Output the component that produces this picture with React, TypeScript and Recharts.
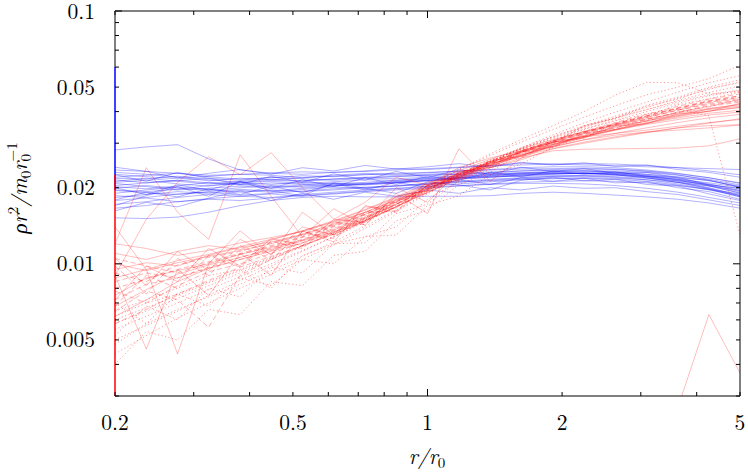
import React from 'react'
import { LineChart, Line, XAxis, YAxis, ReferenceLine } from 'recharts'

// sample radii r/r0 shared by every run
const radii = [0.2, 0.235, 0.276, 0.324, 0.381, 0.447, 0.525, 0.617, 0.725, 0.851, 1.0, 1.175, 1.38, 1.62, 1.91, 2.24, 2.63, 3.09, 3.63, 4.26, 5.0]

// blue runs (flat profiles)
const blueRuns: number[][] = [
  [0.0282, 0.0290, 0.0296, 0.0260, 0.0235, 0.0228, 0.0226, 0.0230, 0.0233, 0.0238, 0.0236, 0.0240, 0.0245, 0.0250, 0.0248, 0.0246, 0.0244, 0.0242, 0.0240, 0.0238, 0.0236],
  [0.0152, 0.0151, 0.0153, 0.0160, 0.0170, 0.0178, 0.0183, 0.0185, 0.0184, 0.0184, 0.0185, 0.0185, 0.0186, 0.0190, 0.0192, 0.0190, 0.0187, 0.0184, 0.0180, 0.0174, 0.0166],
  [0.0235, 0.0232, 0.0228, 0.0224, 0.0226, 0.0229, 0.0231, 0.0230, 0.0232, 0.0235, 0.0238, 0.0241, 0.0244, 0.0246, 0.0248, 0.0249, 0.0248, 0.0245, 0.0240, 0.0233, 0.0225],
  [0.0210, 0.0214, 0.0207, 0.0203, 0.0209, 0.0212, 0.0208, 0.0211, 0.0215, 0.0214, 0.0218, 0.0222, 0.0225, 0.0229, 0.0232, 0.0233, 0.0231, 0.0226, 0.0218, 0.0207, 0.0195],
  [0.0195, 0.0191, 0.0188, 0.0193, 0.0197, 0.0194, 0.0199, 0.0203, 0.0206, 0.0209, 0.0213, 0.0216, 0.0220, 0.0223, 0.0226, 0.0228, 0.0227, 0.0223, 0.0215, 0.0204, 0.0190],
  [0.0220, 0.0224, 0.0228, 0.0221, 0.0216, 0.0219, 0.0223, 0.0221, 0.0225, 0.0228, 0.0230, 0.0232, 0.0235, 0.0237, 0.0238, 0.0239, 0.0237, 0.0233, 0.0227, 0.0219, 0.0209],
  [0.0186, 0.0183, 0.0189, 0.0192, 0.0187, 0.0190, 0.0194, 0.0198, 0.0201, 0.0203, 0.0207, 0.0211, 0.0214, 0.0218, 0.0221, 0.0222, 0.0220, 0.0215, 0.0207, 0.0197, 0.0184],
  [0.0202, 0.0198, 0.0203, 0.0210, 0.0206, 0.0201, 0.0205, 0.0209, 0.0207, 0.0211, 0.0214, 0.0218, 0.0222, 0.0225, 0.0227, 0.0228, 0.0226, 0.0221, 0.0212, 0.0200, 0.0187],
  [0.0215, 0.0209, 0.0213, 0.0218, 0.0214, 0.0220, 0.0217, 0.0214, 0.0218, 0.0221, 0.0224, 0.0226, 0.0229, 0.0233, 0.0236, 0.0237, 0.0236, 0.0232, 0.0225, 0.0214, 0.0201],
  [0.0178, 0.0182, 0.0176, 0.0181, 0.0185, 0.0183, 0.0188, 0.0192, 0.0196, 0.0199, 0.0203, 0.0207, 0.0211, 0.0215, 0.0217, 0.0218, 0.0216, 0.0212, 0.0205, 0.0196, 0.0186],
  [0.0226, 0.0221, 0.0217, 0.0222, 0.0226, 0.0224, 0.0219, 0.0222, 0.0226, 0.0224, 0.0226, 0.0229, 0.0231, 0.0233, 0.0234, 0.0233, 0.0230, 0.0224, 0.0216, 0.0205, 0.0193],
  [0.0199, 0.0204, 0.0199, 0.0195, 0.0200, 0.0204, 0.0201, 0.0204, 0.0208, 0.0212, 0.0216, 0.0219, 0.0221, 0.0222, 0.0223, 0.0223, 0.0221, 0.0218, 0.0213, 0.0206, 0.0198],
  [0.0208, 0.0202, 0.0196, 0.0199, 0.0203, 0.0199, 0.0203, 0.0207, 0.0205, 0.0209, 0.0213, 0.0217, 0.0220, 0.0224, 0.0227, 0.0229, 0.0229, 0.0226, 0.0221, 0.0213, 0.0203],
  [0.0190, 0.0196, 0.0201, 0.0197, 0.0192, 0.0196, 0.0193, 0.0196, 0.0200, 0.0204, 0.0208, 0.0212, 0.0216, 0.0219, 0.0222, 0.0224, 0.0224, 0.0221, 0.0216, 0.0209, 0.0201],
  [0.0218, 0.0216, 0.0222, 0.0215, 0.0210, 0.0214, 0.0212, 0.0216, 0.0219, 0.0217, 0.0220, 0.0223, 0.0226, 0.0228, 0.0229, 0.0229, 0.0227, 0.0222, 0.0214, 0.0203, 0.0191],
  [0.0172, 0.0176, 0.0183, 0.0188, 0.0185, 0.0189, 0.0185, 0.0189, 0.0193, 0.0196, 0.0199, 0.0203, 0.0207, 0.0210, 0.0212, 0.0213, 0.0212, 0.0209, 0.0204, 0.0197, 0.0189],
  [0.0230, 0.0226, 0.0220, 0.0213, 0.0218, 0.0215, 0.0219, 0.0224, 0.0228, 0.0226, 0.0229, 0.0233, 0.0236, 0.0240, 0.0242, 0.0242, 0.0240, 0.0235, 0.0228, 0.0219, 0.0208],
  [0.0196, 0.0193, 0.0197, 0.0204, 0.0209, 0.0206, 0.0210, 0.0207, 0.0210, 0.0214, 0.0217, 0.0220, 0.0224, 0.0226, 0.0228, 0.0228, 0.0225, 0.0219, 0.0210, 0.0198, 0.0184],
  [0.0204, 0.0209, 0.0214, 0.0209, 0.0205, 0.0209, 0.0206, 0.0203, 0.0207, 0.0210, 0.0214, 0.0219, 0.0223, 0.0227, 0.0231, 0.0233, 0.0233, 0.0230, 0.0224, 0.0216, 0.0205],
  [0.0166, 0.0170, 0.0176, 0.0180, 0.0178, 0.0182, 0.0186, 0.0190, 0.0194, 0.0198, 0.0201, 0.0204, 0.0206, 0.0208, 0.0208, 0.0207, 0.0204, 0.0199, 0.0192, 0.0183, 0.0174],
  [0.0212, 0.0218, 0.0212, 0.0207, 0.0212, 0.0216, 0.0213, 0.0217, 0.0220, 0.0222, 0.0224, 0.0226, 0.0228, 0.0229, 0.0229, 0.0228, 0.0225, 0.0219, 0.0210, 0.0199, 0.0186],
  [0.0183, 0.0188, 0.0193, 0.0190, 0.0195, 0.0192, 0.0197, 0.0201, 0.0199, 0.0203, 0.0206, 0.0210, 0.0213, 0.0216, 0.0218, 0.0219, 0.0218, 0.0215, 0.0210, 0.0203, 0.0195],
  [0.0200, 0.0188, 0.0205, 0.0196, 0.0212, 0.0199, 0.0215, 0.0202, 0.0219, 0.0206, 0.0222, 0.0214, 0.0230, 0.0221, 0.0233, 0.0226, 0.0231, 0.0222, 0.0220, 0.0205, 0.0199],
  [0.0225, 0.0212, 0.0230, 0.0218, 0.0206, 0.0222, 0.0210, 0.0227, 0.0214, 0.0232, 0.0219, 0.0236, 0.0226, 0.0241, 0.0232, 0.0238, 0.0228, 0.0230, 0.0219, 0.0214, 0.0201],
  [0.0179, 0.0192, 0.0184, 0.0198, 0.0188, 0.0203, 0.0191, 0.0207, 0.0196, 0.0210, 0.0201, 0.0215, 0.0206, 0.0219, 0.0212, 0.0218, 0.0209, 0.0211, 0.0200, 0.0193, 0.0180],
  [0.0170, 0.0186, 0.0202, 0.0185, 0.0212, 0.0194, 0.0186, 0.0209, 0.0199, 0.0190, 0.0211, 0.0205, 0.0196, 0.0214, 0.0220, 0.0213, 0.0216, 0.0206, 0.0203, 0.0189, 0.0178],
  [0.0241, 0.0232, 0.0219, 0.0228, 0.0236, 0.0226, 0.0240, 0.0233, 0.0245, 0.0237, 0.0242, 0.0249, 0.0241, 0.0252, 0.0246, 0.0251, 0.0243, 0.0246, 0.0236, 0.0230, 0.0220],
  [0.0162, 0.0175, 0.0168, 0.0182, 0.0194, 0.0178, 0.0190, 0.0180, 0.0192, 0.0185, 0.0196, 0.0190, 0.0200, 0.0196, 0.0203, 0.0199, 0.0200, 0.0193, 0.0188, 0.0179, 0.0170],
]

// red runs, solid
const redSolid: (number | null)[][] = [
  [0.0095, 0.0101, 0.0098, 0.0108, 0.0116, 0.0122, 0.0131, 0.0144, 0.0160, 0.0180, 0.0203, 0.0226, 0.0249, 0.0270, 0.0291, 0.0310, 0.0328, 0.0345, 0.0362, 0.0378, 0.0390],
  [0.0075, 0.0088, 0.0094, 0.0100, 0.0109, 0.0116, 0.0124, 0.0136, 0.0152, 0.0172, 0.0196, 0.0220, 0.0244, 0.0266, 0.0286, 0.0303, 0.0318, 0.0332, 0.0345, 0.0352, 0.0355],
  [0.0110, 0.0104, 0.0112, 0.0118, 0.0114, 0.0124, 0.0135, 0.0147, 0.0163, 0.0182, 0.0205, 0.0228, 0.0252, 0.0276, 0.0298, 0.0320, 0.0340, 0.0360, 0.0382, 0.0402, 0.0416],
  [0.0068, 0.0079, 0.0091, 0.0099, 0.0106, 0.0114, 0.0123, 0.0134, 0.0149, 0.0168, 0.0192, 0.0216, 0.0240, 0.0262, 0.0280, 0.0284, 0.0285, 0.0286, 0.0287, 0.0293, 0.0312],
  [0.0120, 0.0115, 0.0108, 0.0113, 0.0121, 0.0127, 0.0134, 0.0146, 0.0160, 0.0178, 0.0199, 0.0222, 0.0246, 0.0269, 0.0290, 0.0309, 0.0323, 0.0332, 0.0338, 0.0345, 0.0354],
  [0.0088, 0.0095, 0.0103, 0.0109, 0.0117, 0.0125, 0.0135, 0.0148, 0.0164, 0.0184, 0.0208, 0.0233, 0.0259, 0.0285, 0.0310, 0.0333, 0.0354, 0.0374, 0.0395, 0.0412, 0.0425],
  [0.0062, 0.0072, 0.0085, 0.0096, 0.0104, 0.0112, 0.0121, 0.0133, 0.0148, 0.0168, 0.0192, 0.0218, 0.0243, 0.0268, 0.0293, 0.0316, 0.0338, 0.0359, 0.0378, 0.0394, 0.0405],
  [0.0100, 0.0094, 0.0101, 0.0107, 0.0113, 0.0120, 0.0130, 0.0142, 0.0157, 0.0176, 0.0198, 0.0222, 0.0247, 0.0272, 0.0297, 0.0322, 0.0346, 0.0368, 0.0390, 0.0408, 0.0420],
  [0.0072, 0.0098, 0.0085, 0.0115, 0.0098, 0.0126, 0.0118, 0.0150, 0.0146, 0.0185, 0.0194, 0.0230, 0.0244, 0.0278, 0.0292, 0.0328, 0.0340, 0.0368, 0.0386, 0.0410, 0.0428],
  [0.0105, 0.0082, 0.0112, 0.0094, 0.0125, 0.0109, 0.0140, 0.0130, 0.0168, 0.0166, 0.0211, 0.0218, 0.0256, 0.0266, 0.0304, 0.0314, 0.0350, 0.0358, 0.0392, 0.0400, 0.0432],
  // noisy ones
  [0.0120, 0.0240, 0.0160, 0.0125, 0.0270, 0.0185, 0.0128, 0.0165, 0.0142, 0.0190, 0.0158, 0.0285, 0.0212, 0.0262, 0.0296, 0.0318, 0.0328, 0.0338, 0.0350, 0.0362, 0.0372],
  [0.0090, 0.0150, 0.0210, 0.0265, 0.0225, 0.0275, 0.0200, 0.0150, 0.0175, 0.0220, 0.0205, 0.0240, 0.0262, 0.0280, 0.0302, 0.0320, 0.0338, 0.0356, 0.0372, 0.0388, 0.0398],
  [0.0090, 0.0046, 0.0095, 0.0075, 0.0110, 0.0090, 0.0135, 0.0122, 0.0170, 0.0160, 0.0205, 0.0218, 0.0248, 0.0268, 0.0296, 0.0318, 0.0340, 0.0362, 0.0385, 0.0402, 0.0415],
  [0.0140, 0.0095, 0.0044, 0.0100, 0.0135, 0.0108, 0.0160, 0.0130, 0.0148, 0.0200, 0.0175, 0.0232, 0.0240, 0.0258, 0.0285, 0.0300, 0.0315, 0.0330, 0.0345, 0.0360, 0.0375],
  // stray run at the bottom right
  [null, null, null, null, null, null, null, null, null, null, null, null, null, null, null, null, null, null, 0.0027, 0.0063, 0.0037],
]

// red runs, dashed
const redDashed: number[][] = [
  [0.0080, 0.0087, 0.0095, 0.0102, 0.0110, 0.0118, 0.0128, 0.0141, 0.0157, 0.0177, 0.0202, 0.0228, 0.0254, 0.0280, 0.0306, 0.0332, 0.0356, 0.0380, 0.0405, 0.0428, 0.0445],
  [0.0072, 0.0083, 0.0088, 0.0097, 0.0106, 0.0115, 0.0125, 0.0138, 0.0154, 0.0175, 0.0200, 0.0226, 0.0252, 0.0278, 0.0304, 0.0330, 0.0355, 0.0380, 0.0408, 0.0435, 0.0455],
  [0.0092, 0.0085, 0.0099, 0.0106, 0.0112, 0.0121, 0.0131, 0.0143, 0.0159, 0.0179, 0.0203, 0.0229, 0.0255, 0.0281, 0.0307, 0.0333, 0.0358, 0.0384, 0.0412, 0.0440, 0.0462],
  [0.0065, 0.0078, 0.0072, 0.0056, 0.0090, 0.0104, 0.0118, 0.0131, 0.0147, 0.0168, 0.0194, 0.0221, 0.0248, 0.0276, 0.0303, 0.0330, 0.0356, 0.0383, 0.0412, 0.0438, 0.0456],
  [0.0105, 0.0098, 0.0092, 0.0101, 0.0109, 0.0117, 0.0127, 0.0140, 0.0156, 0.0176, 0.0200, 0.0225, 0.0251, 0.0277, 0.0302, 0.0327, 0.0350, 0.0373, 0.0398, 0.0420, 0.0436],
  [0.0058, 0.0066, 0.0076, 0.0086, 0.0097, 0.0107, 0.0118, 0.0131, 0.0148, 0.0169, 0.0195, 0.0223, 0.0251, 0.0279, 0.0307, 0.0335, 0.0362, 0.0390, 0.0420, 0.0448, 0.0470],
  [0.0085, 0.0092, 0.0088, 0.0096, 0.0104, 0.0113, 0.0124, 0.0137, 0.0153, 0.0173, 0.0198, 0.0224, 0.0250, 0.0276, 0.0302, 0.0328, 0.0353, 0.0378, 0.0405, 0.0432, 0.0450],
  [0.0078, 0.0070, 0.0082, 0.0093, 0.0100, 0.0110, 0.0121, 0.0135, 0.0151, 0.0172, 0.0197, 0.0224, 0.0251, 0.0279, 0.0306, 0.0333, 0.0359, 0.0386, 0.0415, 0.0442, 0.0462],
  [0.0068, 0.0090, 0.0080, 0.0108, 0.0097, 0.0123, 0.0115, 0.0146, 0.0143, 0.0180, 0.0190, 0.0226, 0.0240, 0.0275, 0.0290, 0.0325, 0.0344, 0.0372, 0.0396, 0.0424, 0.0441],
  [0.0098, 0.0076, 0.0105, 0.0090, 0.0118, 0.0104, 0.0134, 0.0126, 0.0160, 0.0162, 0.0205, 0.0214, 0.0250, 0.0264, 0.0301, 0.0318, 0.0351, 0.0366, 0.0399, 0.0418, 0.0448],
]

// red runs, dotted
const redDotted: number[][] = [
  [0.0055, 0.0062, 0.0070, 0.0079, 0.0089, 0.0100, 0.0113, 0.0128, 0.0146, 0.0168, 0.0195, 0.0224, 0.0254, 0.0285, 0.0316, 0.0347, 0.0377, 0.0408, 0.0442, 0.0476, 0.0505],
  [0.0048, 0.0058, 0.0066, 0.0074, 0.0083, 0.0094, 0.0107, 0.0122, 0.0141, 0.0163, 0.0191, 0.0221, 0.0253, 0.0286, 0.0319, 0.0352, 0.0384, 0.0416, 0.0452, 0.0490, 0.0525],
  [0.0062, 0.0070, 0.0076, 0.0085, 0.0095, 0.0106, 0.0118, 0.0133, 0.0151, 0.0172, 0.0198, 0.0227, 0.0257, 0.0288, 0.0318, 0.0349, 0.0378, 0.0407, 0.0438, 0.0466, 0.0488],
  [0.0044, 0.0052, 0.0061, 0.0070, 0.0080, 0.0091, 0.0104, 0.0119, 0.0138, 0.0161, 0.0189, 0.0220, 0.0253, 0.0288, 0.0324, 0.0361, 0.0398, 0.0436, 0.0478, 0.0520, 0.0555],
  [0.0058, 0.0065, 0.0073, 0.0082, 0.0092, 0.0104, 0.0117, 0.0133, 0.0152, 0.0175, 0.0203, 0.0235, 0.0268, 0.0303, 0.0340, 0.0380, 0.0422, 0.0466, 0.0500, 0.0540, 0.0610],
  [0.0050, 0.0057, 0.0065, 0.0075, 0.0086, 0.0098, 0.0112, 0.0128, 0.0148, 0.0172, 0.0202, 0.0236, 0.0272, 0.0310, 0.0352, 0.0400, 0.0465, 0.0522, 0.0520, 0.0470, 0.0480],
  [0.0060, 0.0067, 0.0075, 0.0084, 0.0094, 0.0105, 0.0118, 0.0132, 0.0150, 0.0171, 0.0197, 0.0225, 0.0254, 0.0284, 0.0313, 0.0342, 0.0368, 0.0392, 0.0410, 0.0385, 0.0130],
  [0.0065, 0.0072, 0.0080, 0.0090, 0.0095, 0.0080, 0.0108, 0.0120, 0.0128, 0.0140, 0.0180, 0.0212, 0.0244, 0.0276, 0.0308, 0.0340, 0.0370, 0.0400, 0.0432, 0.0462, 0.0485],
  [0.0052, 0.0068, 0.0060, 0.0080, 0.0074, 0.0097, 0.0092, 0.0120, 0.0121, 0.0158, 0.0172, 0.0214, 0.0236, 0.0281, 0.0303, 0.0352, 0.0375, 0.0420, 0.0448, 0.0495, 0.0520],
  [0.0040, 0.0054, 0.0050, 0.0066, 0.0063, 0.0085, 0.0082, 0.0108, 0.0112, 0.0148, 0.0163, 0.0206, 0.0230, 0.0276, 0.0301, 0.0350, 0.0378, 0.0424, 0.0456, 0.0500, 0.0535],
  [0.0070, 0.0058, 0.0076, 0.0068, 0.0088, 0.0082, 0.0104, 0.0100, 0.0128, 0.0130, 0.0170, 0.0186, 0.0225, 0.0248, 0.0290, 0.0316, 0.0360, 0.0384, 0.0426, 0.0450, 0.0478],
]

// left border: plain part, then runs that hug it
const borderTop = [0.1, 0.06]
const blueEdge = [0.06, 0.0196]
const redEdge = [0.0225, 0.003]

const xTicks = [0.2, 0.3, 0.4, 0.5, 0.6, 0.7, 0.8, 0.9, 1, 2, 3, 4, 5]
const xLabels = [0.2, 0.5, 1, 2, 5]
const yTicks = [0.003, 0.004, 0.005, 0.006, 0.007, 0.008, 0.009, 0.01, 0.02, 0.03, 0.04, 0.05, 0.06, 0.07, 0.08, 0.09, 0.1]
const yLabels = [0.005, 0.01, 0.02, 0.05, 0.1]
const longTicks = [1, 0.01, 0.1]

const rows = radii.map((r, i) => {
  const row: Record<string, number | null> = { r }
  blueRuns.forEach((s, k) => { row['b' + k] = s[i] })
  redSolid.forEach((s, k) => { row['s' + k] = s[i] })
  redDashed.forEach((s, k) => { row['d' + k] = s[i] })
  redDotted.forEach((s, k) => { row['t' + k] = s[i] })
  return row
})

const FONT = 'Latin Modern Roman'

const AxisTick = (props: any) => {
  const { x, y, payload, side } = props
  const v = payload.value
  const len = longTicks.includes(v) ? 7 : 4
  let line
  if (side === 'bottom') line = <line x1={x} y1={y} x2={x} y2={y - len} stroke='#000' />
  else if (side === 'top') line = <line x1={x} y1={y} x2={x} y2={y + len} stroke='#000' />
  else if (side === 'left') line = <line x1={x} y1={y} x2={x + len} y2={y} stroke='#000' />
  else line = <line x1={x} y1={y} x2={x - len} y2={y} stroke='#000' />
  return (
    <g>
      {line}
      {side === 'bottom' && xLabels.includes(v) && (
        <text x={x} y={y + 34} textAnchor='middle' fill='#000' fontFamily={FONT} fontSize={21.5}>{String(v)}</text>
      )}
      {side === 'left' && yLabels.includes(v) && (
        <text x={x - 20} y={y + 7.5} textAnchor='end' fill='#000' fontFamily={FONT} fontSize={21.5}>{String(v)}</text>
      )}
    </g>
  )
}

const BLUE = '#0000ff'
const RED = '#ff0000'

export default function App() {
  const common = { xAxisId: 'b', yAxisId: 'l', type: 'linear' as const, dot: false, isAnimationActive: false, strokeWidth: 1, connectNulls: false }
  return (
    <div style={{ position: 'absolute', left: 0, top: 0, width: 748, height: 473, background: '#fff' }}>
      <LineChart width={748} height={473} data={rows} margin={{ top: 0, right: 0, bottom: 0, left: 0 }}>
        <XAxis xAxisId='b' dataKey='r' type='number' scale='log' domain={[0.2, 5]} allowDataOverflow ticks={xTicks} interval={0}
          orientation='bottom' height={77} tickSize={0} tickMargin={0} axisLine={{ stroke: '#000' }}
          tick={(p: any) => <AxisTick {...p} side='bottom' />} />
        <XAxis xAxisId='t' dataKey='r' type='number' scale='log' domain={[0.2, 5]} allowDataOverflow ticks={xTicks} interval={0}
          orientation='top' height={11} tickSize={0} tickMargin={0} axisLine={{ stroke: '#000' }}
          tick={(p: any) => <AxisTick {...p} side='top' />} />
        <YAxis yAxisId='l' type='number' scale='log' domain={[0.003, 0.1]} allowDataOverflow ticks={yTicks} interval={0}
          orientation='left' width={115} tickSize={0} tickMargin={0} axisLine={false}
          tick={(p: any) => <AxisTick {...p} side='left' />} />
        <YAxis yAxisId='r' type='number' scale='log' domain={[0.003, 0.1]} allowDataOverflow ticks={yTicks} interval={0}
          orientation='right' width={8} tickSize={0} tickMargin={0} axisLine={{ stroke: '#000' }}
          tick={(p: any) => <AxisTick {...p} side='right' />} />
        {blueRuns.map((_, k) => (
          <Line key={'b' + k} {...common} dataKey={'b' + k} stroke={BLUE} strokeOpacity={0.3} />
        ))}
        {redDotted.map((_, k) => (
          <Line key={'t' + k} {...common} dataKey={'t' + k} stroke={RED} strokeOpacity={0.4} strokeDasharray='1.2 2.4' />
        ))}
        {redDashed.map((_, k) => (
          <Line key={'d' + k} {...common} dataKey={'d' + k} stroke={RED} strokeOpacity={0.3} strokeDasharray='5 3' />
        ))}
        {redSolid.map((_, k) => (
          <Line key={'s' + k} {...common} dataKey={'s' + k} stroke={RED} strokeOpacity={0.26} />
        ))}
        <ReferenceLine xAxisId='b' yAxisId='l' segment={[{ x: 0.2, y: borderTop[0] }, { x: 0.2, y: borderTop[1] }]} stroke='#000' strokeWidth={1} />
        <ReferenceLine xAxisId='b' yAxisId='l' segment={[{ x: 0.2, y: blueEdge[0] }, { x: 0.2, y: blueEdge[1] }]} stroke={BLUE} strokeWidth={1.5} />
        <ReferenceLine xAxisId='b' yAxisId='l' segment={[{ x: 0.2, y: redEdge[0] }, { x: 0.2, y: redEdge[1] }]} stroke={RED} strokeWidth={1.5} />
      </LineChart>
      <svg width={748} height={473} style={{ position: 'absolute', left: 0, top: 0, pointerEvents: 'none' }}>
        <text x={427} y={464} textAnchor='middle' fill='#000' fontFamily={FONT} fontSize={21.5} fontStyle='italic'>
          r/r<tspan dy={4} fontSize={15} fontStyle='normal'>0</tspan>
        </text>
        <text transform='translate(27,188) rotate(-90)' textAnchor='middle' fill='#000' fontFamily={FONT} fontSize={21.5} fontStyle='italic'>
          ρr<tspan dy={-9} fontSize={15} fontStyle='normal'>2</tspan>
          <tspan dy={9}>/m</tspan>
          <tspan dy={4} fontSize={15} fontStyle='normal'>0</tspan>
          <tspan dy={-4}>r</tspan>
          <tspan dy={4} fontSize={15} fontStyle='normal'>0</tspan>
          <tspan dx={-7.5} dy={-14} fontSize={15} fontStyle='normal'>−1</tspan>
        </text>
      </svg>
    </div>
  )
}
